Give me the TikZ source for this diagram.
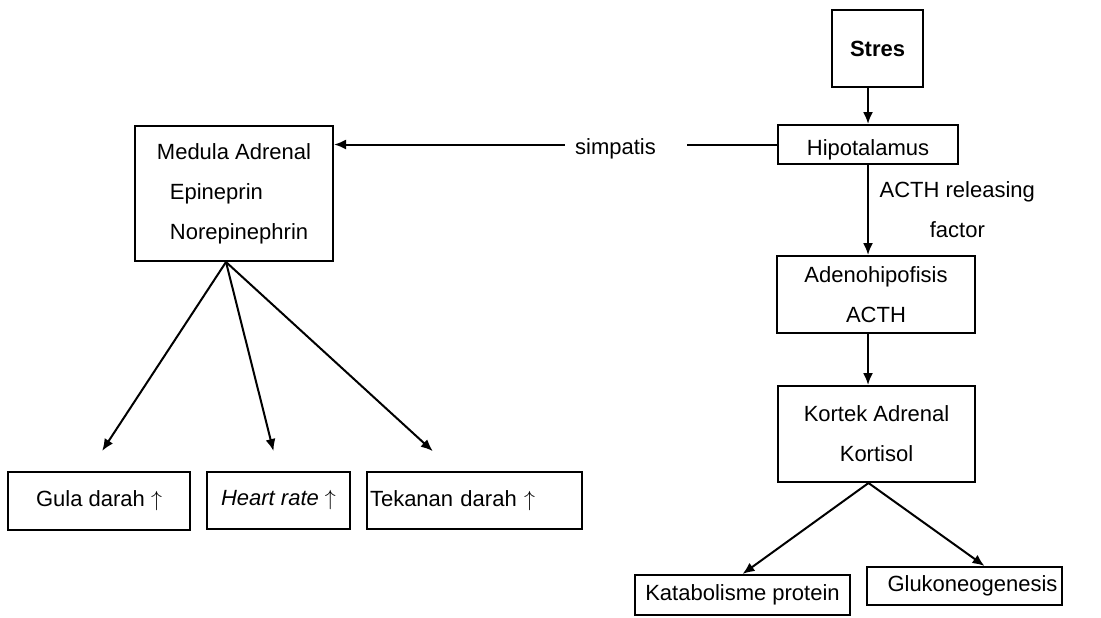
\documentclass[tikz,border=0pt]{standalone}
\usepackage{fontspec}
\setmainfont{Liberation Sans}
\usetikzlibrary{arrows.meta}

\begin{document}
\begin{tikzpicture}[x=0.5pt,y=-0.5pt,->,>={Latex[length=6pt,width=5pt]},line width=1pt,
  font=\fontsize{11}{20}\selectfont,
  box/.style={rectangle,draw,inner sep=0pt}]
  \useasboundingbox (0,0) rectangle (1101,617);
  % left branch
  \node[box,minimum width=99pt,minimum height=67.5pt,align=left] (medula) at (234,193.5)
    {Medula Adrenal\\\hspace*{6.5pt}Epineprin\\\hspace*{6.5pt}Norepinephrin};
  \node[box,minimum width=91pt,minimum height=29pt] (gula) at (99,501) {Gula darah $\uparrow$};
  \node[box,minimum width=71.5pt,minimum height=28.5pt] (heart) at (278.5,500.5) {{\itshape Heart rate} $\uparrow$};
  \node[box,text width=104.5pt,minimum height=28.5pt,inner xsep=1.5pt,align=left] (tekanan) at (474.5,500.5) {Tekanan darah $\uparrow$};
  % right branch
  \node[box,minimum width=45.5pt,minimum height=38.5pt,font=\fontsize{11}{20}\selectfont\bfseries] (stres) at (877.5,48.5) {Stres};
  \node[box,minimum width=90pt,minimum height=19.5pt,text depth=0pt] (hipo) at (868,144.5) {\raisebox{-3pt}{Hipotalamus}};
  \node[box,minimum width=99pt,minimum height=38.5pt,align=center] (adeno) at (876,294.5) {Adenohipofisis\\ACTH};
  \node[box,minimum width=98.5pt,minimum height=48pt,align=center] (kortek) at (876.5,434) {Kortek Adrenal\\Kortisol};
  \node[box,minimum width=107.5pt,minimum height=20pt] (katab) at (742.5,595) {Katabolisme protein};
  \node[box,minimum width=97.5pt,minimum height=19pt] (gluko) at (964.5,586) {\hspace*{8pt}Glukoneogenesis};

  \draw[<-] (medula.east |- hipo.west) -- node[pos=0.658,fill=white,minimum width=61pt,inner sep=0pt,yshift=-2pt] (simp) {simpatis\hspace*{10pt}} (hipo.west);
  \path
    (stres.south -| hipo.north) edge (hipo.north)
    (hipo.south) edge node[right,align=center,xshift=2pt] (actf) {ACTH releasing\\factor} (hipo.south |- adeno.north)
    (adeno.south -| hipo.south) edge (kortek.north -| hipo.south)
    ([xshift=-4pt]kortek.south) edge (katab.north)
    ([xshift=-4pt]kortek.south) edge ([xshift=10pt]gluko.north)
    ([xshift=-4pt]medula.south) edge[shorten >=12pt] ([xshift=-5pt]gula.north)
    ([xshift=-4pt]medula.south) edge[shorten >=10.3pt] (heart.north)
    ([xshift=-4pt]medula.south) edge[shorten >=14.7pt] ([xshift=-10pt]tekanan.north);
\end{tikzpicture}
\end{document}
